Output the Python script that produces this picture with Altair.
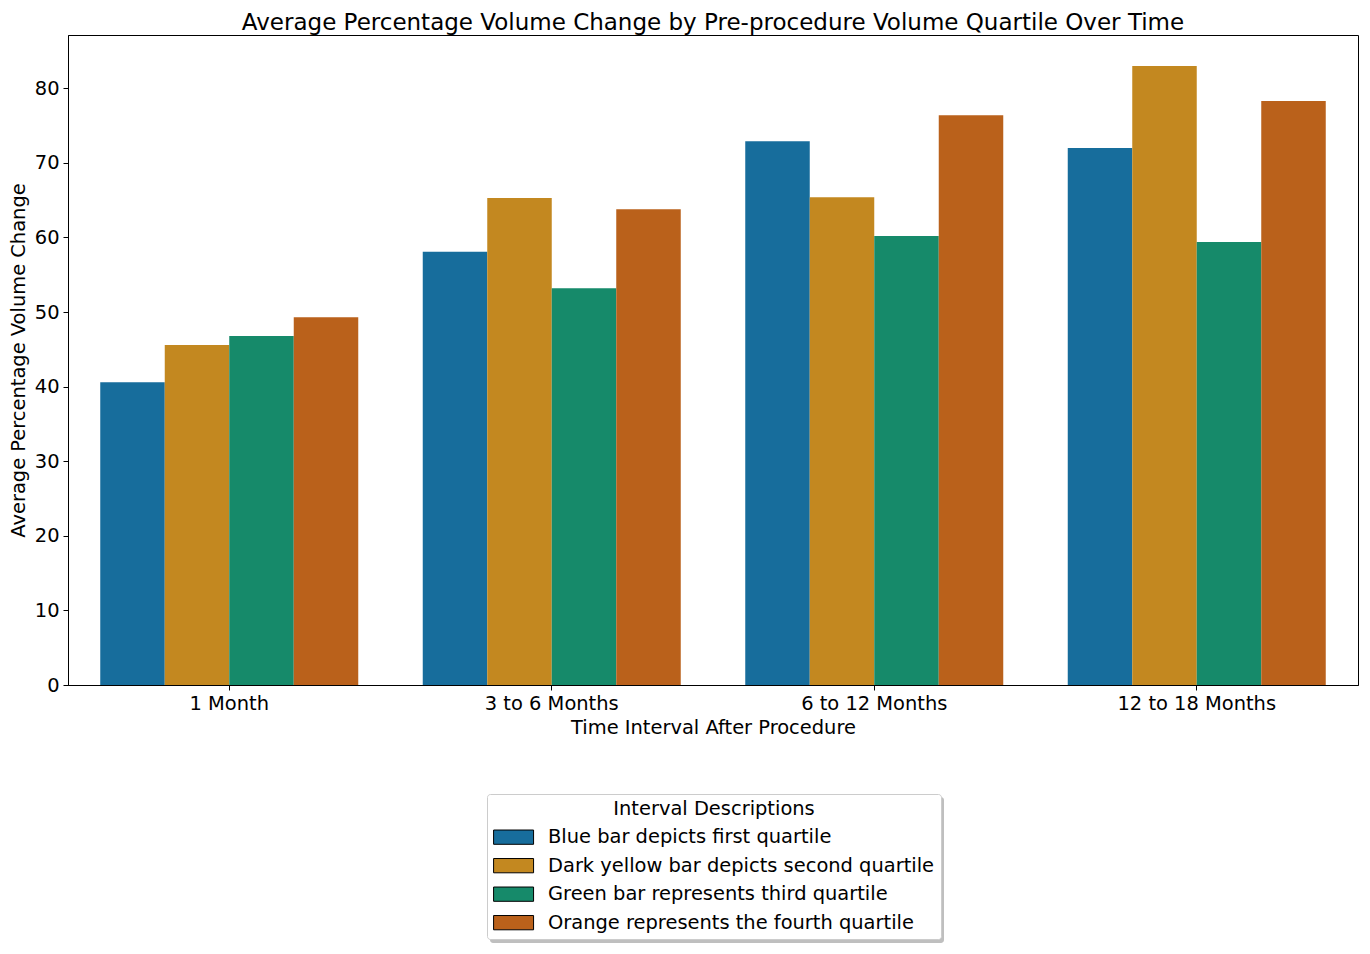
import altair as alt
import pandas as pd

intervals = ["1 Month", "3 to 6 Months", "6 to 12 Months", "12 to 18 Months"]
quartiles = [
    "Blue bar depicts first quartile",
    "Dark yellow bar depicts second quartile",
    "Green bar represents third quartile",
    "Orange represents the fourth quartile",
]
q1 = [40.6, 58.1, 72.9, 72.0]
q2 = [45.6, 65.3, 65.4, 83.0]
q3 = [46.8, 53.2, 60.2, 59.4]
q4 = [49.3, 63.8, 76.4, 78.3]
colors = ["#176d9c", "#c38820", "#168a6a", "#ba611b"]
y_ticks = [0, 10, 20, 30, 40, 50, 60, 70, 80]

rows = []
for q, vals in zip(quartiles, [q1, q2, q3, q4]):
    for i, v in zip(intervals, vals):
        rows.append({"interval": i, "quartile": q, "value": v})
df = pd.DataFrame(rows)

FONT = "DejaVu Sans"
FS = 19.44

bars = alt.Chart(df).mark_bar().encode(
    x=alt.X(
        "interval:N",
        sort=intervals,
        scale=alt.Scale(paddingInner=0.2, paddingOuter=0.1),
        axis=alt.Axis(
            title="Time Interval After Procedure",
            labelAngle=0,
            bandPosition=0.5,
            labelFontSize=FS,
            titleFontSize=FS,
            titleFontWeight="normal",
            labelColor="black",
            titleColor="black",
            tickColor="black",
            domainColor="black",
            tickSize=5,
            labelPadding=4,
            titlePadding=6,
            grid=False,
        ),
    ),
    xOffset=alt.XOffset("quartile:N", sort=quartiles,
                        scale=alt.Scale(paddingInner=0, paddingOuter=0)),
    y=alt.Y(
        "value:Q",
        scale=alt.Scale(domain=[0, 87.15], nice=False),
        axis=alt.Axis(
            title="Average Percentage Volume Change",
            values=y_ticks,
            labelFontSize=FS,
            titleFontSize=FS,
            titleFontWeight="normal",
            labelColor="black",
            titleColor="black",
            tickColor="black",
            domainColor="black",
            tickSize=5,
            labelPadding=4,
            titlePadding=6,
            grid=False,
        ),
    ),
    color=alt.Color(
        "quartile:N",
        sort=quartiles,
        scale=alt.Scale(domain=quartiles, range=colors),
        legend=alt.Legend(
            title="Interval Descriptions",
            orient="none",
            legendX=419,
            legendY=759,
            direction="vertical",
            titleAnchor="middle",
            titleFontSize=FS,
            titleFontWeight="normal",
            titleColor="black",
            titlePadding=8,
            titleLimit=1000,
            labelFontSize=FS,
            labelColor="black",
            labelLimit=0,
            symbolType="M-2.8,-1H2.8V1H-2.8Z",
            symbolSize=204,
            symbolStrokeColor="black",
            symbolStrokeWidth=1,
            symbolOpacity=1,
            symbolOffset=10.86,
            labelOffset=24.7,
            rowPadding=7.5,
            padding=6,
            strokeColor="#cccccc",
            fillColor="white",
            cornerRadius=3,
        ),
    ),
)

shadow = alt.Chart(alt.InlineData(values=[{}])).mark_rect(
    color="#7f7f7f", opacity=0.5, cornerRadius=3
).encode(
    x=alt.value(422), x2=alt.value(876), y=alt.value(762), y2=alt.value(908)
)

chart = alt.layer(shadow, bars).properties(
    width=1290,
    height=650,
    title=alt.TitleParams(
        "Average Percentage Volume Change by Pre-procedure Volume Quartile Over Time",
        fontSize=23,
        fontWeight="normal",
        color="black",
        offset=0,
        font=FONT,
    ),
    padding={"left": 60, "top": 27, "right": 4, "bottom": 261},
    autosize=alt.AutoSizeParams(type="none"),
).configure(font=FONT).configure_view(stroke="black", strokeWidth=1)

chart.save("out.html", embed_options={"renderer": "svg", "actions": False})
